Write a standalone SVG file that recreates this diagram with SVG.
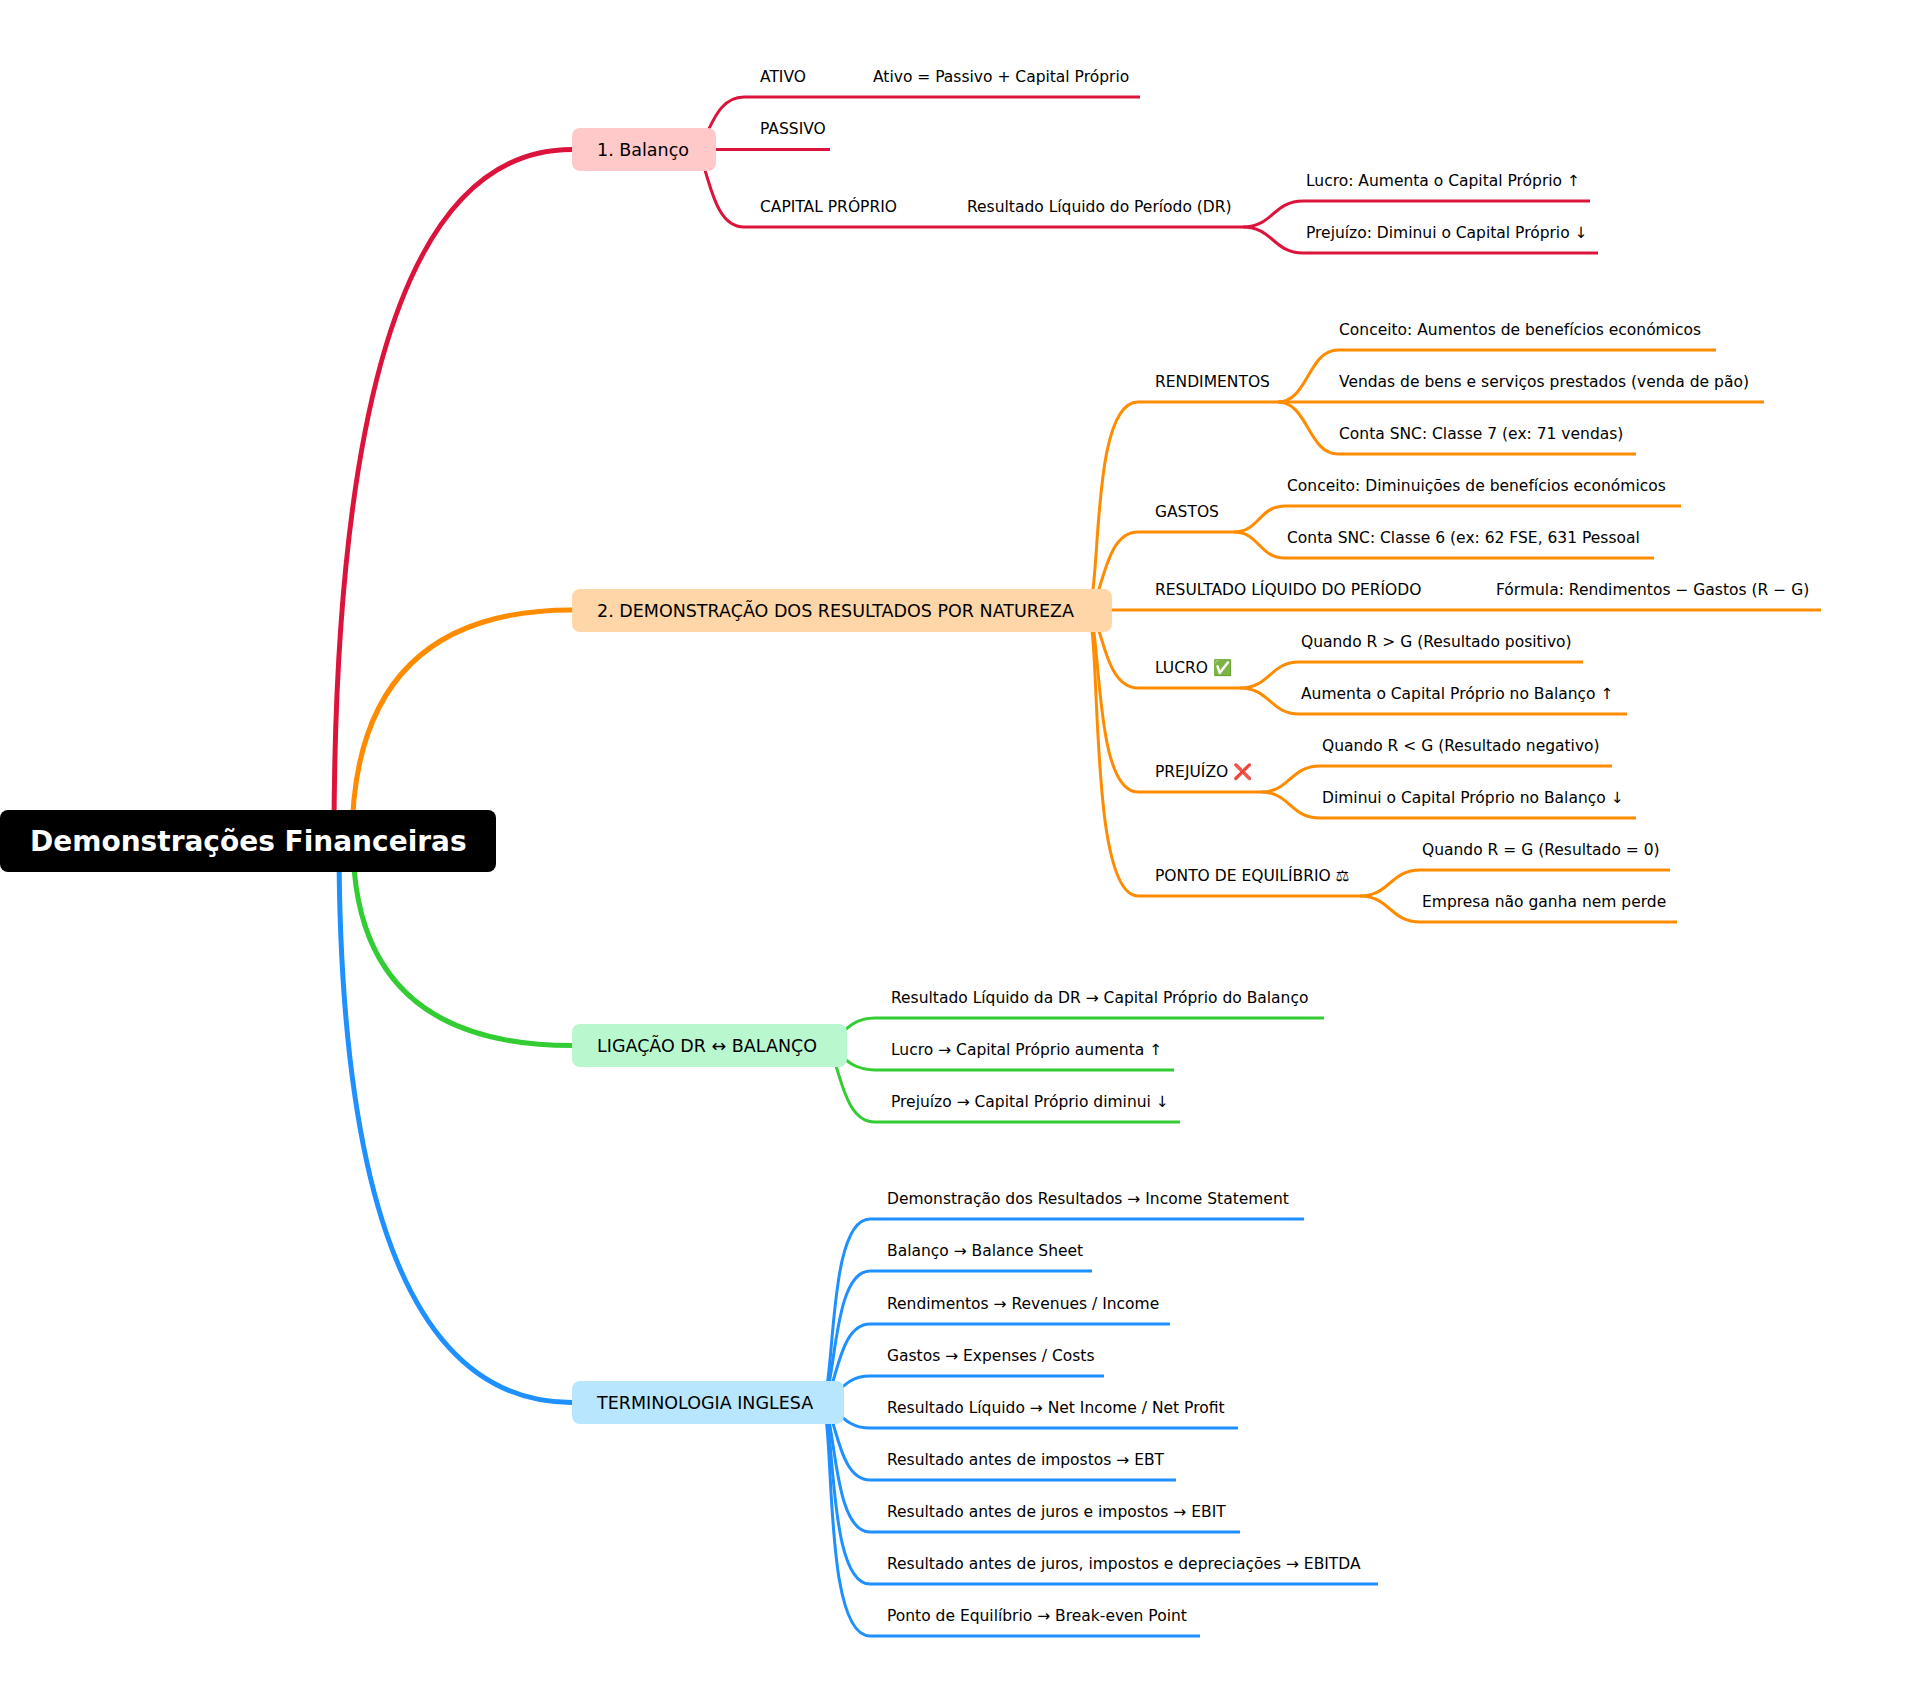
<svg xmlns="http://www.w3.org/2000/svg" width="1918" height="1681" viewBox="0 0 1918 1681">
<style>
text{font-family:"DejaVu Sans","Noto Sans",sans-serif;fill:#000}
.leaf{font-size:15.5px}
.branch{font-size:17.5px}
.root{font-size:28px;font-weight:bold;fill:#fff}
path{fill:none;stroke-linecap:butt}
.l1{stroke-width:5}
.l2{stroke-width:3}
.red{stroke:#DC143C}.ora{stroke:#FF8C00}.gre{stroke:#32CD32}.blu{stroke:#1E90FF}
</style>
<rect width="1918" height="1681" fill="#fff"/>
<g id="connectors">
<g class="red">
<path class="l1" d="M334 841Q334 149.500 572 149.500"/>
<path class="l2" d="M692 149.500C709 149.500 710 97 744 97H810"/>
<path class="l2" d="M810 97H1140"/>
<path class="l2" d="M692 149.500H830"/>
<path class="l2" d="M692 149.500C709 149.500 707 227 744 227H967"/>
<path class="l2" d="M967 227H1243"/>
<path class="l2" d="M1243 227C1273 227 1273 201 1303 201H1590"/>
<path class="l2" d="M1243 227C1273 227 1273 253 1303 253H1598"/>
</g>
<g class="ora">
<path class="l1" d="M352 841Q352 610 572 610"/>
<path class="l2" d="M1086 610C1103 610 1088 402 1138 402H1278"/>
<path class="l2" d="M1278 402C1308 402 1308 350 1338 350H1716"/>
<path class="l2" d="M1278 402H1764"/>
<path class="l2" d="M1278 402C1308 402 1308 454 1338 454H1636"/>
<path class="l2" d="M1086 610C1103 610 1101 532 1138 532H1234"/>
<path class="l2" d="M1234 532C1259 532 1259 506 1285 506H1681"/>
<path class="l2" d="M1234 532C1259 532 1259 558 1285 558H1654"/>
<path class="l2" d="M1086 610H1821"/>
<path class="l2" d="M1086 610C1103 610 1101 688 1138 688H1240"/>
<path class="l2" d="M1240 688C1270 688 1270 662 1299 662H1583"/>
<path class="l2" d="M1240 688C1270 688 1270 714 1299 714H1627"/>
<path class="l2" d="M1086 610C1103 610 1091 792 1138 792H1261"/>
<path class="l2" d="M1261 792C1290 792 1290 766 1320 766H1612"/>
<path class="l2" d="M1261 792C1290 792 1290 818 1320 818H1636"/>
<path class="l2" d="M1086 610C1103 610 1086 896 1138 896H1360"/>
<path class="l2" d="M1360 896C1390 896 1390 870 1420 870H1670"/>
<path class="l2" d="M1360 896C1390 896 1390 922 1420 922H1677"/>
</g>
<g class="gre">
<path class="l1" d="M353 841Q353 1045.500 572 1045.500"/>
<path class="l2" d="M823 1045.500C840 1045.500 843 1018 875 1018H1324"/>
<path class="l2" d="M823 1045.500C840 1045.500 843 1070 875 1070H1174"/>
<path class="l2" d="M823 1045.500C840 1045.500 838 1122 875 1122H1180"/>
</g>
<g class="blu">
<path class="l1" d="M339 841Q339 1402.500 572 1402.500"/>
<path class="l2" d="M820 1402.500C837 1402.500 825 1219 870 1219H1304"/>
<path class="l2" d="M820 1402.500C837 1402.500 830 1271 870 1271H1092"/>
<path class="l2" d="M820 1402.500C837 1402.500 835 1324 870 1324H1170"/>
<path class="l2" d="M820 1402.500C837 1402.500 840 1376 870 1376H1104"/>
<path class="l2" d="M820 1402.500C837 1402.500 840 1428 870 1428H1238"/>
<path class="l2" d="M820 1402.500C837 1402.500 835 1480 870 1480H1176"/>
<path class="l2" d="M820 1402.500C837 1402.500 830 1532 870 1532H1240"/>
<path class="l2" d="M820 1402.500C837 1402.500 825 1584 870 1584H1378"/>
<path class="l2" d="M820 1402.500C837 1402.500 820 1636 870 1636H1200"/>
</g>
</g>
<g id="root"><rect x="0" y="810" width="496" height="62" rx="8" fill="#000"/><text class="root" x="30" y="851">Demonstrações Financeiras</text></g>
<g id="n1"><rect x="572" y="128" width="144" height="43" rx="8" fill="#ffc9c9"/><text class="branch" x="597" y="156">1. Balanço</text></g>
<g id="n1-1"><text class="leaf" x="760" y="82">ATIVO</text></g>
<g id="n1-1-1"><text class="leaf" x="873" y="82">Ativo = Passivo + Capital Próprio</text></g>
<g id="n1-2"><text class="leaf" x="760" y="134">PASSIVO</text></g>
<g id="n1-3"><text class="leaf" x="760" y="212">CAPITAL PRÓPRIO</text></g>
<g id="n1-3-1"><text class="leaf" x="967" y="212">Resultado Líquido do Período (DR)</text></g>
<g id="n1-3-1-1"><text class="leaf" x="1306" y="186">Lucro: Aumenta o Capital Próprio ↑</text></g>
<g id="n1-3-1-2"><text class="leaf" x="1306" y="238">Prejuízo: Diminui o Capital Próprio ↓</text></g>
<g id="n2"><rect x="572" y="589" width="540" height="43" rx="8" fill="#ffd6a8"/><text class="branch" x="597" y="617">2. DEMONSTRAÇÃO DOS RESULTADOS POR NATUREZA</text></g>
<g id="n2-1"><text class="leaf" x="1155" y="387">RENDIMENTOS</text></g>
<g id="n2-1-1"><text class="leaf" x="1339" y="335">Conceito: Aumentos de benefícios económicos</text></g>
<g id="n2-1-2"><text class="leaf" x="1339" y="387">Vendas de bens e serviços prestados (venda de pão)</text></g>
<g id="n2-1-3"><text class="leaf" x="1339" y="439">Conta SNC: Classe 7 (ex: 71 vendas)</text></g>
<g id="n2-2"><text class="leaf" x="1155" y="517">GASTOS</text></g>
<g id="n2-2-1"><text class="leaf" x="1287" y="491">Conceito: Diminuições de benefícios económicos</text></g>
<g id="n2-2-2"><text class="leaf" x="1287" y="543">Conta SNC: Classe 6 (ex: 62 FSE, 631 Pessoal</text></g>
<g id="n2-3"><text class="leaf" x="1155" y="595">RESULTADO LÍQUIDO DO PERÍODO</text></g>
<g id="n2-3-1"><text class="leaf" x="1496" y="595">Fórmula: Rendimentos − Gastos (R − G)</text></g>
<g id="n2-4"><text class="leaf" x="1155" y="673">LUCRO ✅</text></g>
<g id="n2-4-1"><text class="leaf" x="1301" y="647">Quando R &gt; G (Resultado positivo)</text></g>
<g id="n2-4-2"><text class="leaf" x="1301" y="699">Aumenta o Capital Próprio no Balanço ↑</text></g>
<g id="n2-5"><text class="leaf" x="1155" y="777">PREJUÍZO ❌</text></g>
<g id="n2-5-1"><text class="leaf" x="1322" y="751">Quando R &lt; G (Resultado negativo)</text></g>
<g id="n2-5-2"><text class="leaf" x="1322" y="803">Diminui o Capital Próprio no Balanço ↓</text></g>
<g id="n2-6"><text class="leaf" x="1155" y="881">PONTO DE EQUILÍBRIO ⚖</text></g>
<g id="n2-6-1"><text class="leaf" x="1422" y="855">Quando R = G (Resultado = 0)</text></g>
<g id="n2-6-2"><text class="leaf" x="1422" y="907">Empresa não ganha nem perde</text></g>
<g id="n3"><rect x="572" y="1024" width="275" height="43" rx="8" fill="#b9f8cf"/><text class="branch" x="597" y="1052">LIGAÇÃO DR ↔ BALANÇO</text></g>
<g id="n3-1"><text class="leaf" x="891" y="1003">Resultado Líquido da DR → Capital Próprio do Balanço</text></g>
<g id="n3-2"><text class="leaf" x="891" y="1055">Lucro → Capital Próprio aumenta ↑</text></g>
<g id="n3-3"><text class="leaf" x="891" y="1107">Prejuízo → Capital Próprio diminui ↓</text></g>
<g id="n4"><rect x="572" y="1381" width="272" height="43" rx="8" fill="#b8e6fe"/><text class="branch" x="597" y="1409">TERMINOLOGIA INGLESA</text></g>
<g id="n4-1"><text class="leaf" x="887" y="1204">Demonstração dos Resultados → Income Statement</text></g>
<g id="n4-2"><text class="leaf" x="887" y="1256">Balanço → Balance Sheet</text></g>
<g id="n4-3"><text class="leaf" x="887" y="1309">Rendimentos → Revenues / Income</text></g>
<g id="n4-4"><text class="leaf" x="887" y="1361">Gastos → Expenses / Costs</text></g>
<g id="n4-5"><text class="leaf" x="887" y="1413">Resultado Líquido → Net Income / Net Profit</text></g>
<g id="n4-6"><text class="leaf" x="887" y="1465">Resultado antes de impostos → EBT</text></g>
<g id="n4-7"><text class="leaf" x="887" y="1517">Resultado antes de juros e impostos → EBIT</text></g>
<g id="n4-8"><text class="leaf" x="887" y="1569">Resultado antes de juros, impostos e depreciações → EBITDA</text></g>
<g id="n4-9"><text class="leaf" x="887" y="1621">Ponto de Equilíbrio → Break-even Point</text></g>
</svg>
